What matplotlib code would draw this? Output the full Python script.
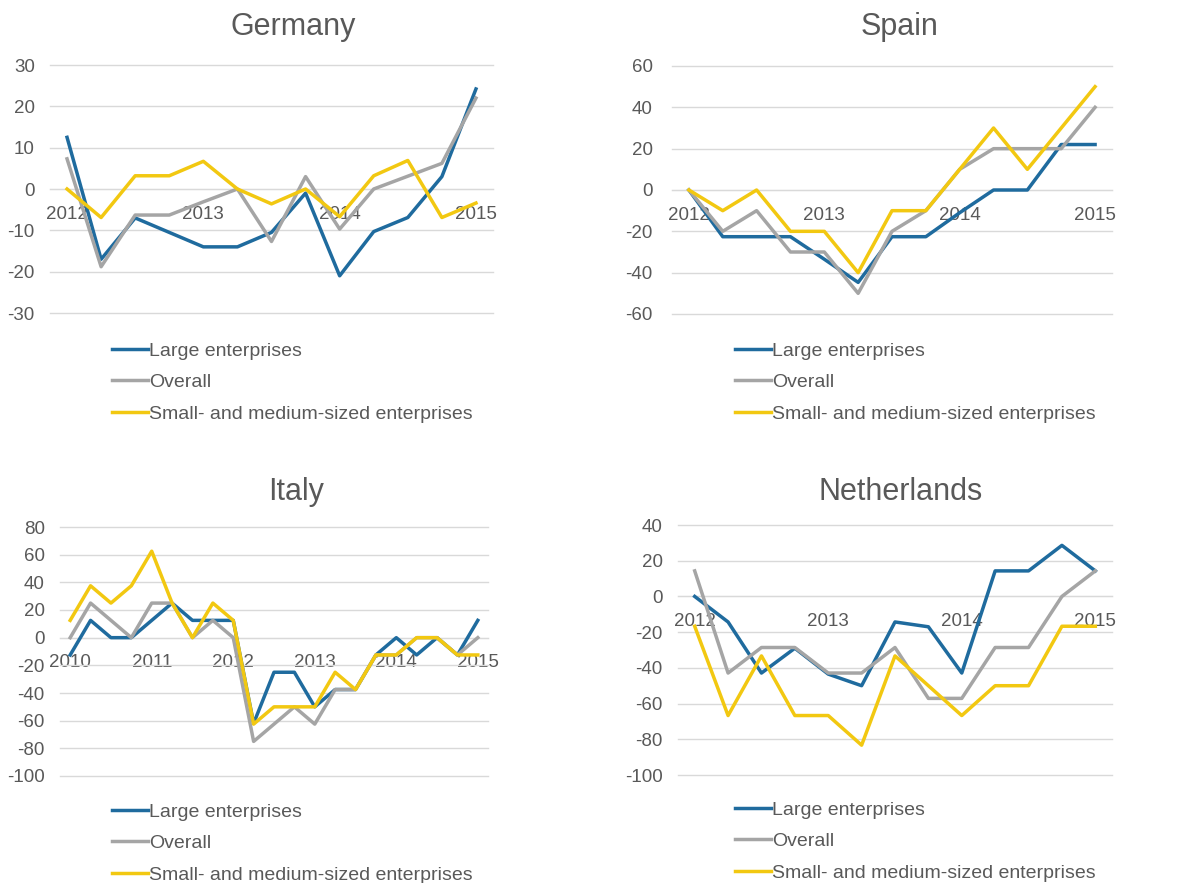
import numpy as np
import matplotlib.pyplot as plt

plt.rcParams['font.family'] = ['Liberation Sans', 'DejaVu Sans']
plt.rcParams['axes.unicode_minus'] = False

series_names = ["Large enterprises", "Overall", "Small- and medium-sized enterprises"]
colors = ["#1f6b9e", "#a5a5a5", "#f2c811"]

years_short = ["2012", "2013", "2014", "2015"]
years_italy = ["2010", "2011", "2012", "2013", "2014", "2015"]

germany_large = [12.5, -17, -7, -10.5, -14, -14, -10.5, -1, -21, -10.3, -6.9, 3, 24.2]
germany_overall = [7.3, -18.8, -6.3, -6.3, -3.1, 0, -12.7, 3, -9.7, 0, 3.1, 6.2, 22]
germany_sme = [0, -6.9, 3.2, 3.2, 6.7, 0, -3.6, 0, -6.7, 3.2, 6.9, -6.9, -3.4]

spain_large = [0, -22.6, -22.6, -22.6, -33.5, -44.7, -22.6, -22.6, -11, 0, 0, 22, 22]
spain_overall = [0, -20, -10, -30, -30, -50, -20, -10, 10, 20, 20, 20, 40]
spain_sme = [0, -10, 0, -20, -20, -40, -10, -10, 10, 30, 10, 30, 50]

italy_large = [-12.5, 12.5, 0, 0, 12.5, 25, 12.5, 12.5, 12.5, -62, -25, -25, -50,
               -37.5, -37.5, -12.5, 0, -12.5, 0, -12.5, 12.5]
italy_overall = [0, 25, 12.5, 0, 25, 25, 0, 12.5, 0, -75, -62.5, -50, -62.5,
                 -37.5, -37.5, -12.5, -12.5, 0, 0, -12.5, 0]
italy_sme = [12.5, 37.5, 25, 37.5, 62.5, 25, 0, 25, 12.5, -62.5, -50, -50, -50,
             -25, -37.5, -12.5, -12.5, 0, 0, -12.5, -12.5]

netherlands_large = [0, -14.3, -42.9, -29, -43.5, -50, -14.3, -17, -42.9, 14.3, 14.3, 28.6, 14.3]
netherlands_overall = [14.3, -42.9, -28.6, -28.6, -42.9, -42.9, -28.6, -57.1, -57.1, -28.6, -28.6, 0, 14.3]
netherlands_sme = [-16.7, -66.7, -33.3, -66.7, -66.7, -83.3, -33.3, -50, -66.7, -50, -50, -16.7, -16.7]

W, H = 1203, 883
fig = plt.figure(figsize=(W / 100, H / 100), dpi=100)

text_col = "#595959"
grid_col = "#d9d9d9"


def px_rect(x0, y0, x1, y1):
    return [x0 / W, 1 - y1 / H, (x1 - x0) / W, (y1 - y0) / H]


def draw_panel(rect, title, title_x, title_y, year_labels, data, yticks, legend_xy, ypad):
    ax = fig.add_axes(px_rect(*rect))
    n = len(data[0])
    x = np.arange(n)
    for vals, col, name in zip(data, colors, series_names):
        ax.plot(x, vals, color=col, lw=2.5, label=name, zorder=3)
    ax.set_xlim(-0.5, n - 0.5)
    ax.set_ylim(yticks[0], yticks[-1])
    ax.set_yticks(yticks)
    ax.set_yticklabels([str(v) for v in yticks])
    ax.set_xticks(np.arange(0, n, 4))
    ax.set_xticklabels(year_labels)
    ax.grid(axis='y', color=grid_col, lw=1)
    for gl in ax.get_ygridlines():
        gl.set_clip_on(False)
    ax.set_axisbelow(True)
    for s in ['top', 'left', 'right']:
        ax.spines[s].set_visible(False)
    ax.spines['bottom'].set_position(('data', 0))
    ax.spines['bottom'].set_color(grid_col)
    ax.tick_params(axis='x', length=0, pad=12, labelsize=13.5, labelcolor=text_col)
    ax.tick_params(axis='y', length=0, pad=ypad, labelsize=13.5, labelcolor=text_col)
    fig.text(title_x / W, 1 - title_y / H, title, ha='center', va='baseline',
             fontsize=22, color=text_col)
    handles, labels = ax.get_legend_handles_labels()
    fig.legend(handles, labels, loc='upper left',
               bbox_to_anchor=(legend_xy[0] / W, 1 - legend_xy[1] / H),
               frameon=False, fontsize=14, borderpad=0, borderaxespad=0,
               handlelength=1.85, handletextpad=0.05, labelspacing=0.72,
               labelcolor=text_col)
    return ax


draw_panel((50, 65, 493, 313), "Germany", 293, 35, years_short,
           [germany_large, germany_overall, germany_sme],
           [-30, -20, -10, 0, 10, 20, 30], (112, 342), 11)
draw_panel((672, 66, 1112, 314), "Spain", 900, 35, years_short,
           [spain_large, spain_overall, spain_sme],
           [-60, -40, -20, 0, 20, 40, 60], (735, 342), 14)
draw_panel((60, 527, 488, 776), "Italy", 296, 500, years_italy,
           [italy_large, italy_overall, italy_sme],
           [-100, -80, -60, -40, -20, 0, 20, 40, 60, 80], (112, 803), 11)
draw_panel((678, 525, 1112, 775), "Netherlands", 901, 500, years_short,
           [netherlands_large, netherlands_overall, netherlands_sme],
           [-100, -80, -60, -40, -20, 0, 20, 40], (735, 801), 11)

fig.savefig("out.png", dpi=100)
